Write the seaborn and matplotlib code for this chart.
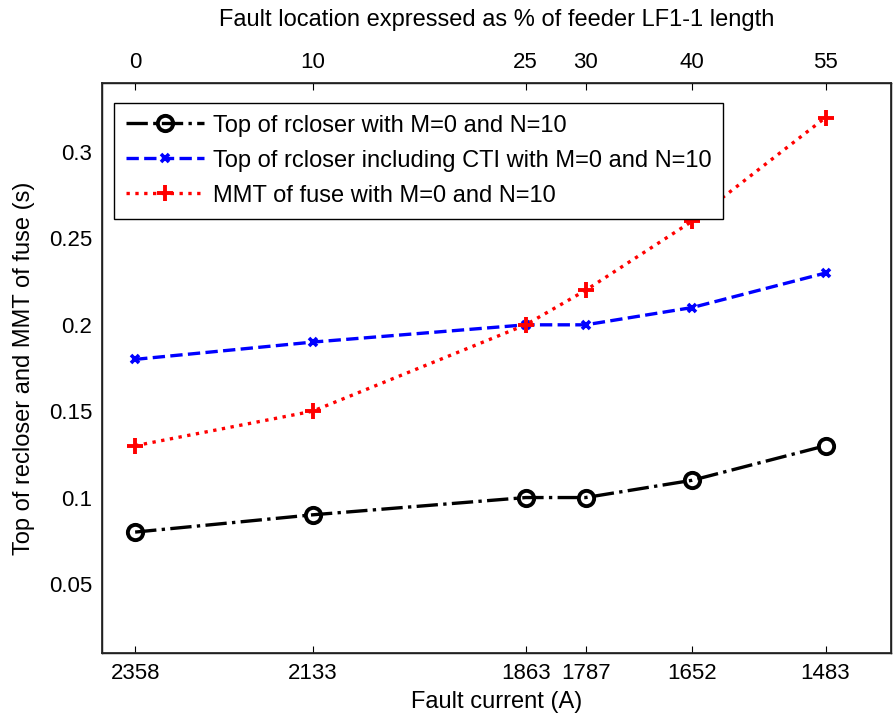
import matplotlib
matplotlib.use("Agg")
import matplotlib.pyplot as plt
import seaborn as sns
import pandas as pd

# Fault current at each fault location (A) and location as % of feeder length
fault_current = [2358, 2133, 1863, 1787, 1652, 1483]
fault_location = [0, 10, 25, 30, 40, 55]

# Operating times (s)
top_recloser = [0.08, 0.09, 0.10, 0.10, 0.11, 0.13]
top_recloser_cti = [0.18, 0.19, 0.20, 0.20, 0.21, 0.23]
mmt_fuse = [0.13, 0.15, 0.20, 0.22, 0.26, 0.32]

labels = [
    "Top of rcloser with M=0 and N=10",
    "Top of rcloser including CTI with M=0 and N=10",
    "MMT of fuse with M=0 and N=10",
]

sns.set_theme(style="white")
plt.rcParams["font.family"] = ["Liberation Sans", "DejaVu Sans"]
plt.rcParams["text.color"] = "black"
plt.rcParams["axes.labelcolor"] = "black"
plt.rcParams["xtick.color"] = "black"
plt.rcParams["ytick.color"] = "black"

fig = plt.figure(figsize=(8.93, 7.17), dpi=100)
ax = fig.add_axes([102 / 893, 1 - 653 / 717, (891 - 102) / 893, (653 - 83) / 717])

series = [
    (top_recloser, "black", "-.", dict(marker="o", markersize=11, markerfacecolor="none",
                                        markeredgewidth=2.8)),
    (top_recloser_cti, "#0000ff", "--", dict(marker="x", markersize=5.5, markeredgewidth=2.6)),
    (mmt_fuse, "#ff0000", ":", dict(marker="+", markersize=12, markeredgewidth=2.8)),
]

for (vals, color, ls, mstyle), lab in zip(series, labels):
    df = pd.DataFrame({"current": fault_current, "time": vals})
    sns.lineplot(data=df, x="current", y="time", ax=ax, label=lab, color=color,
                 linestyle=ls, linewidth=2.4, estimator=None, sort=False)
    line = ax.lines[-1]
    line.set_marker(mstyle["marker"])
    line.set_markersize(mstyle["markersize"])
    line.set_markeredgewidth(mstyle["markeredgewidth"])
    line.set_markeredgecolor(color)
    line.set_markerfacecolor(mstyle.get("markerfacecolor", color))

ax.set_xlim(2400, 1400)
ax.set_ylim(0.01, 0.34)
ax.set_xticks(fault_current)
ax.set_xticklabels([str(v) for v in fault_current])
ax.set_yticks([0.05, 0.1, 0.15, 0.2, 0.25, 0.3])
ax.set_yticklabels(["0.05", "0.1", "0.15", "0.2", "0.25", "0.3"])
ax.set_xlabel("Fault current (A)", fontsize=17, labelpad=5)
ax.set_ylabel("Top of recloser and MMT of fuse (s)", fontsize=17, labelpad=10)
ax.tick_params(axis="both", labelsize=16, length=5, width=0.8, color="black",
               direction="in", pad=7)
for sp in ax.spines.values():
    sp.set_color("black")
    sp.set_linewidth(1.0)

top = ax.twiny()
top.set_xlim(ax.get_xlim())
top.set_xticks(fault_current)
top.set_xticklabels([str(v) for v in fault_location])
top.set_xlabel("Fault location expressed as % of feeder LF1-1 length", fontsize=17, labelpad=19)
top.tick_params(axis="x", labelsize=16, length=5, width=0.8, color="black",
                direction="in", pad=7)

leg = ax.legend(loc="upper left", bbox_to_anchor=(0.015, 0.965), borderaxespad=0,
                fontsize=17, frameon=True, fancybox=False, edgecolor="black",
                framealpha=1, handlelength=3.3, borderpad=0.5, labelspacing=0.55,
                handletextpad=0.4)
leg.get_frame().set_linewidth(1.0)

fig.savefig("out.png", dpi=100)
